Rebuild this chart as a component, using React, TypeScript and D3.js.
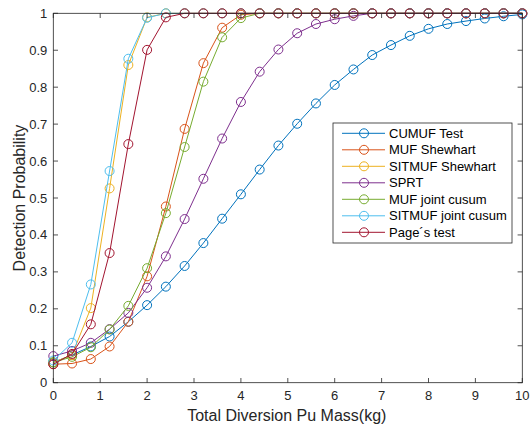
import React from "react";
import * as d3 from "d3";

const xValues = [0, 0.4, 0.8, 1.2, 1.6, 2.0, 2.4, 2.8, 3.2, 3.6, 4.0, 4.4, 4.8, 5.2, 5.6, 6.0, 6.4, 6.8, 7.2, 7.6, 8.0, 8.4, 8.8, 9.2, 9.6, 10];

const cumufTest = [0.055, 0.075, 0.098, 0.125, 0.165, 0.21, 0.26, 0.316, 0.378, 0.444, 0.51, 0.577, 0.642, 0.701, 0.756, 0.806, 0.848, 0.887, 0.914, 0.939, 0.958, 0.971, 0.979, 0.986, 0.992, 0.997];
const mufShewhart = [0.05, 0.052, 0.064, 0.098, 0.165, 0.288, 0.477, 0.687, 0.865, 0.961, 0.996, 1, 1, 1, 1, 1, 1, 1, 1, 1, 1, 1, 1, 1, 1, 1];
const sitmufShewhart = [0.055, 0.075, 0.202, 0.526, 0.86, 0.989, 1, 1, 1, 1, 1, 1, 1, 1, 1, 1, 1, 1, 1, 1, 1, 1, 1, 1, 1, 1];
const sprt = [0.072, 0.086, 0.108, 0.145, 0.189, 0.257, 0.342, 0.443, 0.552, 0.661, 0.76, 0.842, 0.902, 0.946, 0.971, 0.984, 0.993, 1, 1, 1, 1, 1, 1, 1, 1, 1];
const mufJointCusum = [0.055, 0.07, 0.096, 0.144, 0.208, 0.31, 0.459, 0.638, 0.815, 0.935, 0.987, 1, 1, 1, 1, 1, 1, 1, 1, 1, 1, 1, 1, 1, 1, 1];
const sitmufJointCusum = [0.06, 0.108, 0.266, 0.573, 0.877, 0.988, 1, 1, 1, 1, 1, 1, 1, 1, 1, 1, 1, 1, 1, 1, 1, 1, 1, 1, 1, 1];
const pagesTest = [0.05, 0.078, 0.158, 0.351, 0.646, 0.901, 0.989, 1, 1, 1, 1, 1, 1, 1, 1, 1, 1, 1, 1, 1, 1, 1, 1, 1, 1, 1];

const seriesNames = ["CUMUF Test", "MUF Shewhart", "SITMUF Shewhart", "SPRT", "MUF joint cusum", "SITMUF joint cusum", "Page\u00B4s test"];
const seriesValues = [cumufTest, mufShewhart, sitmufShewhart, sprt, mufJointCusum, sitmufJointCusum, pagesTest];
const seriesColors = ["#0072BD", "#D95319", "#EDB120", "#7E2F8E", "#77AC30", "#4DBEEE", "#A2142F"];

const xTicks = [0, 1, 2, 3, 4, 5, 6, 7, 8, 9, 10];
const yTicks = [0, 0.1, 0.2, 0.3, 0.4, 0.5, 0.6, 0.7, 0.8, 0.9, 1];

const W = 531;
const H = 428;
const left = 53.3;
const right = 522.3;
const top = 13.3;
const bottom = 382.7;
const font = "'Liberation Sans', Arial, Helvetica, sans-serif";
const axisColor = "#262626";

export default function App() {
  const x = d3.scaleLinear().domain([0, 10]).range([left, right]);
  const y = d3.scaleLinear().domain([0, 1]).range([bottom, top]);
  const line = d3.line<number>().x((_, i) => x(xValues[i])).y((d) => y(d));
  const tickLen = 4.7;

  const legX = 333;
  const legY = 123;
  const legW = 179;
  const legH = 120;
  const rowH = 16.5;

  return (
    <svg width={W} height={H} style={{ position: "absolute", left: 0, top: 0, background: "#fff" }}>
      <rect x={0} y={0} width={W} height={H} fill="#fff" />
      {seriesValues.map((vals, si) => (
        <g key={si}>
          <path d={line(vals) || ""} fill="none" stroke={seriesColors[si]} strokeWidth={1} />
          {vals.map((v, i) => (
            <circle key={i} cx={x(xValues[i])} cy={y(v)} r={4.5} fill="none" stroke={seriesColors[si]} strokeWidth={1} />
          ))}
        </g>
      ))}
      <rect x={left} y={top} width={right - left} height={bottom - top} fill="none" stroke={axisColor} strokeWidth={0.8} />
      {xTicks.map((t) => (
        <g key={"x" + t}>
          <line x1={x(t)} x2={x(t)} y1={bottom} y2={bottom - tickLen} stroke={axisColor} strokeWidth={0.8} />
          <line x1={x(t)} x2={x(t)} y1={top} y2={top + tickLen} stroke={axisColor} strokeWidth={0.8} />
          <text x={x(t)} y={bottom + 17} textAnchor="middle" fontFamily={font} fontSize={13} fill={axisColor}>
            {t}
          </text>
        </g>
      ))}
      {yTicks.map((t) => (
        <g key={"y" + t}>
          <line x1={left} x2={left + tickLen} y1={y(t)} y2={y(t)} stroke={axisColor} strokeWidth={0.8} />
          <line x1={right} x2={right - tickLen} y1={y(t)} y2={y(t)} stroke={axisColor} strokeWidth={0.8} />
          <text x={left - 6} y={y(t) + 4.5} textAnchor="end" fontFamily={font} fontSize={13} fill={axisColor}>
            {t}
          </text>
        </g>
      ))}
      <text x={(left + right) / 2 - 1} y={421} textAnchor="middle" fontFamily={font} fontSize={16} fill={axisColor}>
        Total Diversion Pu Mass(kg)
      </text>
      <text
        transform={`translate(25,${(top + bottom) / 2}) rotate(-90)`}
        textAnchor="middle"
        fontFamily={font}
        fontSize={16}
        fill={axisColor}
      >
        Detection Probability
      </text>
      <rect x={legX} y={legY} width={legW} height={legH} fill="#fff" stroke={axisColor} strokeWidth={0.8} />
      {seriesNames.map((name, i) => {
        const cy = legY + 10.3 + i * rowH;
        return (
          <g key={name}>
            <line x1={legX + 9} x2={legX + 52} y1={cy} y2={cy} stroke={seriesColors[i]} strokeWidth={1} />
            <circle cx={legX + 31} cy={cy} r={4.5} fill="none" stroke={seriesColors[i]} strokeWidth={1} />
            <text x={legX + 56} y={cy + 4.5} fontFamily={font} fontSize={13} fill="#000">
              {name}
            </text>
          </g>
        );
      })}
    </svg>
  );
}
